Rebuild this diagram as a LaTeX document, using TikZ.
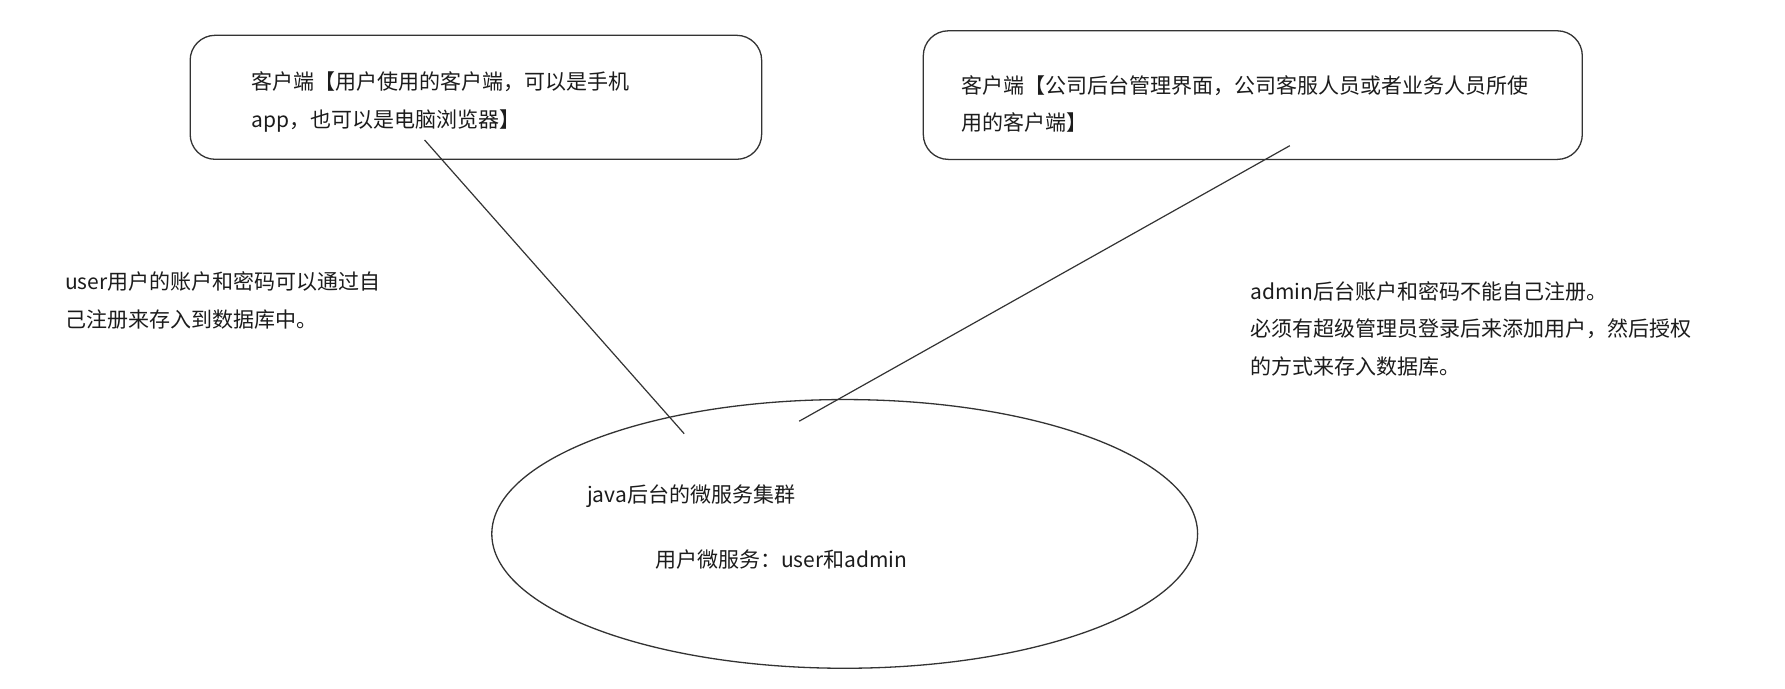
\documentclass[tikz,border=0pt]{standalone}
\usepackage{fontspec}
\setmainfont{Noto Sans CJK SC}
\usetikzlibrary{shapes.geometric}
\definecolor{ink}{HTML}{1C1C1C}
\definecolor{stroke}{HTML}{333333}
\begin{document}
\begin{tikzpicture}[x=1pt,y=-1pt,
  txt/.style={anchor=north west,inner sep=0pt,align=left,text=ink,font=\fontsize{21}{37.8}\selectfont},
  clientbox/.style={draw=stroke,line width=1.3pt,rounded corners=25pt,inner sep=0pt},
  wire/.style={draw=stroke,line width=1.2pt}]
\fill[white] (0,0) rectangle (1785,688);
\useasboundingbox (0,0) rectangle (1785,688);
% client boxes
\node[clientbox,minimum width=571.5pt,minimum height=124pt] (box1) at (475.9,97.3) {};
\node[clientbox,minimum width=659pt,minimum height=128.6pt] (box2) at (1252.8,95.1) {};
\node[txt] (t1) at (251,71.5) {客户端【用户使用的客户端，可以是手机\\app，也可以是电脑浏览器】};
\node[txt] (t2) at (961,75) {客户端【公司后台管理界面，公司客服人员或者业务人员所使\\用的客户端】};
% cluster ellipse
\node[draw=stroke,line width=1.3pt,ellipse,minimum width=705.8pt,minimum height=268.7pt,inner sep=0pt] (cluster) at (844.7,533.9) {};
\node[txt] (t3) at (587,484.5) {java后台的微服务集群};
\node[txt] (t4) at (655,549.5) {用户微服务：user和admin};
% side notes
\node[txt] (t5) at (65,271.2) {user用户的账户和密码可以通过自\\己注册来存入到数据库中。};
\node[txt] (t6) at (1250,281) {admin后台账户和密码不能自己注册。\\必须有超级管理员登录后来添加用户，然后授权\\的方式来存入数据库。};
% connectors
\coordinate (a1) at (424.6,140.0);
\coordinate (a2) at (684.2,433.7);
\coordinate (b1) at (1289.8,145.7);
\coordinate (b2) at (799.2,421.2);
\draw[wire] (a1) -- (a2);
\draw[wire] (b1) -- (b2);
\end{tikzpicture}
\end{document}
